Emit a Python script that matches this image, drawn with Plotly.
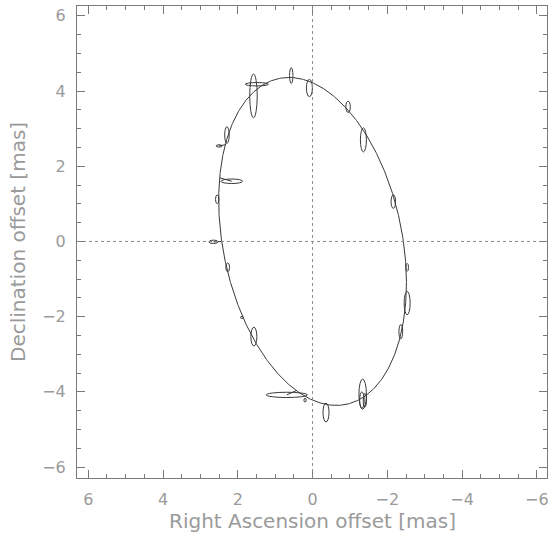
import numpy as np
import plotly.graph_objects as go

# Orbit model (sheared-ellipse description), mas
ORBIT_HALF_HEIGHT = 4.36
ORBIT_HALF_WIDTH = 2.43
ORBIT_SHEAR = 0.145

# Measured positions (mas) and error-ellipse half sizes (mas)
pt_ra = [1.58, 1.49, 0.57, 0.085, -0.95, -1.36, 2.29, 2.50, 2.16, 2.55, 2.65, 2.27,
         1.89, 1.57, 0.69, 0.20, -0.36, -1.34, -1.32, -1.40, -2.16, -2.53, -2.53, -2.36]
pt_dec = [3.87, 4.18, 4.41, 4.08, 3.58, 2.70, 2.83, 2.54, 1.60, 1.12, -0.01, -0.69,
          -2.02, -2.53, -4.08, -4.22, -4.55, -4.06, -4.22, -4.22, 1.06, -0.69, -1.64, -2.40]
err_ra = [0.10, 0.31, 0.045, 0.08, 0.06, 0.08, 0.06, 0.08, 0.29, 0.045, 0.12, 0.05,
          0.04, 0.08, 0.55, 0.03, 0.08, 0.10, 0.06, 0.045, 0.06, 0.035, 0.08, 0.05]
err_dec = [0.58, 0.045, 0.21, 0.23, 0.15, 0.32, 0.22, 0.03, 0.06, 0.115, 0.045, 0.115,
           0.025, 0.25, 0.07, 0.05, 0.25, 0.40, 0.22, 0.18, 0.18, 0.105, 0.31, 0.19]

# Observed-minus-computed connectors (observed -> model position)
oc_ra_obs = [2.50, 2.16, 2.65, 0.69]
oc_dec_obs = [2.54, 1.60, -0.01, -4.08]
oc_ra_mod = [2.34, 2.48, 2.43, 0.42]
oc_dec_mod = [2.57, 1.69, 0.00, -3.96]

tick_vals = [-6, -4, -2, 0, 2, 4, 6]
x_title = "Right Ascension offset [mas]"
y_title = "Declination offset [mas]"

LINE = "#3a3a3a"
TEXT = "#9a9a9a"
FRAME = "#7a7a7a"
FONT = "DejaVu Sans"

t = np.linspace(0, 2 * np.pi, 721)
orb_dec = ORBIT_HALF_HEIGHT * np.cos(t)
orb_ra = ORBIT_SHEAR * orb_dec + ORBIT_HALF_WIDTH * np.sin(t)

fig = go.Figure()
fig.add_trace(go.Scatter(x=orb_ra, y=orb_dec, mode="lines",
                         line=dict(color=LINE, width=1), hoverinfo="skip",
                         showlegend=False))

oc_x, oc_y = [], []
for a, b, c, d in zip(oc_ra_obs, oc_dec_obs, oc_ra_mod, oc_dec_mod):
    oc_x += [a, c, None]
    oc_y += [b, d, None]
fig.add_trace(go.Scatter(x=oc_x, y=oc_y, mode="lines",
                         line=dict(color=LINE, width=1), hoverinfo="skip",
                         showlegend=False))

shapes = []
for x, y, sx, sy in zip(pt_ra, pt_dec, err_ra, err_dec):
    shapes.append(dict(type="circle", xref="x", yref="y",
                       x0=x - sx, x1=x + sx, y0=y - sy, y1=y + sy,
                       line=dict(color=LINE, width=1)))
shapes.append(dict(type="line", xref="x", yref="paper", x0=0, x1=0, y0=0, y1=1,
                   line=dict(color="#8a8a8a", width=1, dash="dot")))
shapes.append(dict(type="line", xref="paper", yref="y", x0=0, x1=1, y0=0, y1=0,
                   line=dict(color="#8a8a8a", width=1, dash="dot")))

axis_common = dict(
    showgrid=False, zeroline=False, showline=True, linecolor=FRAME, linewidth=1,
    mirror="ticks", ticks="inside", ticklen=8, tickcolor=FRAME, tickwidth=1,
    tickvals=tick_vals, tickfont=dict(family=FONT, size=16, color=TEXT),
    automargin=False, ticklabelstandoff=7,
    minor=dict(dtick=0.5, ticks="inside", ticklen=4, tickcolor=FRAME, tickwidth=1,
               showgrid=False),
)

annotations = [
    dict(text=x_title, xref="paper", yref="paper", x=0.5, y=0, xanchor="center",
         yanchor="middle", yshift=-43, showarrow=False,
         font=dict(family=FONT, size=20, color=TEXT)),
    dict(text=y_title, xref="paper", yref="paper", x=0, y=0.5, xanchor="center",
         yanchor="middle", xshift=-59, textangle=-90, showarrow=False,
         font=dict(family=FONT, size=20, color=TEXT)),
]

fig.update_layout(
    width=549, height=537,
    margin=dict(l=77, r=2, t=6, b=59),
    paper_bgcolor="white", plot_bgcolor="white",
    shapes=shapes, annotations=annotations,
    xaxis=dict(range=[6.3, -6.27], **axis_common),
    yaxis=dict(range=[-6.29, 6.26], **axis_common),
)

fig.write_html("out.html",
               config={"displayModeBar": False},
               post_script="document.body.style.margin='0px';"
                           "document.body.style.overflow='hidden';")
